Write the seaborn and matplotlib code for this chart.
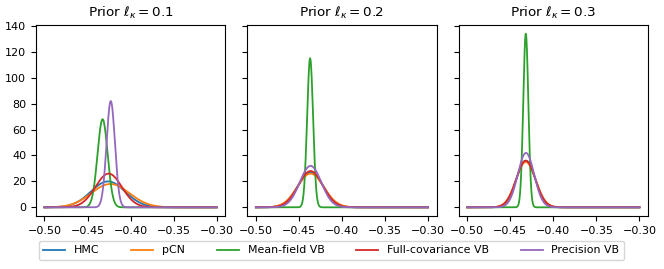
import numpy as np
import pandas as pd
import matplotlib
matplotlib.use("Agg")
import matplotlib.pyplot as plt
import seaborn as sns

methods = ["HMC", "pCN", "Mean-field VB", "Full-covariance VB", "Precision VB"]
prior_lengths = [0.1, 0.2, 0.3]
# posterior mode location per panel, per method
means_01 = [-0.4262, -0.4235, -0.4325, -0.4255, -0.4230]
means_02 = [-0.4365, -0.4365, -0.4370, -0.4365, -0.4365]
means_03 = [-0.4320, -0.4320, -0.4320, -0.4320, -0.4318]
# peak density heights per panel, per method
peaks_01 = [20, 18, 68, 26, 82]
peaks_02 = [27, 26, 115, 28, 32]
peaks_03 = [36, 35, 134, 36, 42]
x_min, x_max = -0.5, -0.3

colors = ["#1f77b4", "#ff7f0e", "#2ca02c", "#d62728", "#9467bd"]

means_all = [means_01, means_02, means_03]
peaks_all = [peaks_01, peaks_02, peaks_03]

grid = np.linspace(x_min, x_max, 1601)
rows = []
for p, ell in enumerate(prior_lengths):
    for m, name in enumerate(methods):
        mu = means_all[p][m]
        pk = peaks_all[p][m]
        sd = 1.0 / (pk * np.sqrt(2 * np.pi))
        dens = pk * np.exp(-0.5 * ((grid - mu) / sd) ** 2)
        rows.append(pd.DataFrame({"x": grid, "density": dens,
                                  "method": name, "ell": ell}))
df = pd.concat(rows, ignore_index=True)

plt.rcParams["font.family"] = ["DejaVu Sans"]
fig, axes = plt.subplots(1, 3, figsize=(6.64, 2.69), dpi=100, sharey=True)
fig.subplots_adjust(left=0.054, right=0.976, top=0.907, bottom=0.197, wspace=0.116)

for ax, ell in zip(axes, prior_lengths):
    sub = df[df["ell"] == ell]
    sns.lineplot(data=sub, x="x", y="density", hue="method", hue_order=methods,
                 palette=colors, ax=ax, legend=False, linewidth=1.3,
                 estimator=None, sort=False)
    ax.set_title(r"Prior $\ell_\kappa = $" + f"{ell}", fontsize=9.7)
    ax.set_xlabel("")
    ax.set_ylabel("")
    ax.set_xticks([-0.5, -0.45, -0.4, -0.35, -0.3])
    ax.tick_params(labelsize=8)
axes[0].set_yticks(np.arange(0, 141, 20))

handles = [plt.Line2D([], [], color=c, lw=1.3) for c in colors]
fig.legend(handles, methods, loc="center", ncol=5, bbox_to_anchor=(0.499, 0.069),
           fontsize=7.9, frameon=True, handlelength=2.0, handletextpad=0.8,
           columnspacing=2.9)

fig.savefig("out.png", dpi=100)
